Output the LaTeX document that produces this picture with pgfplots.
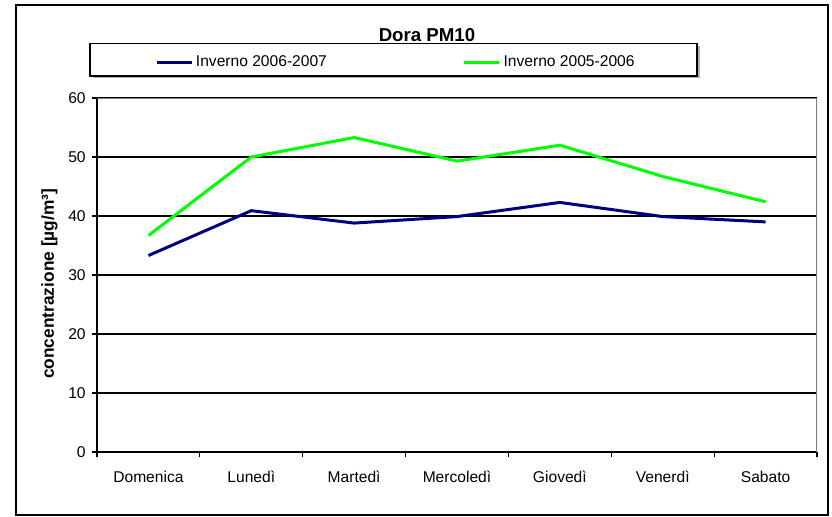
\documentclass[border=0pt]{standalone}
\usepackage{pgfplots}
\pgfplotsset{compat=1.18}
\usepackage{fontspec}
\setmainfont{Liberation Sans}
\definecolor{bluL}{RGB}{0,0,128}
\definecolor{grnL}{RGB}{0,255,0}
\begin{document}
\begin{tikzpicture}
\path[use as bounding box] (0,0) rectangle (624pt,387.75pt);
% outer frame
\draw[line width=1.1pt,black] (12pt,1.5pt) rectangle (621pt,384pt);
% title
\node[anchor=base,font=\fontsize{14}{17}\selectfont\bfseries,inner sep=0pt] at (320.25pt,356.6pt) {Dora PM10};
% legend frame with shadow
\fill[gray!60] (69.5pt,329pt) rectangle (524.75pt,353pt);
\draw[line width=0.8pt,black,fill=white] (67.5pt,330.75pt) rectangle (522.75pt,355.1pt);
\begin{axis}[
  at={(72.75pt,48.75pt)}, anchor=south west,
  scale only axis, width=540pt, height=265.5pt,
  xmin=-0.5, xmax=6.5, ymin=0, ymax=60,
  axis x line*=bottom, axis y line*=left,
  axis line style={line width=1.1pt,black,-},
  tick align=outside,
  major tick length=4pt,
  tick style={line width=0.8pt,black},
  ytick={0,10,20,30,40,50,60},
  ymajorgrids, grid style={line width=0.8pt,black},
  xtick={-0.5,0.5,1.5,2.5,3.5,4.5,5.5,6.5},
  xticklabels={},
  extra x ticks={0,1,2,3,4,5,6},
  extra x tick labels={Domenica,Lunedì,Martedì,Mercoledì,Giovedì,Venerdì,Sabato},
  extra x tick style={major tick length=0pt, grid=none},
  tick label style={font=\fontsize{11.7}{14}\selectfont},
  x tick label style={yshift=-11pt},
  y tick label style={xshift=-1pt},
  /pgf/number format/assume math mode=true,
  ylabel={concentrazione [µg/m³]},
  ylabel style={font=\fontsize{13}{16}\selectfont\bfseries, at={(axis description cs:-0.066,0.475)}, anchor=center},
  legend columns=2,
  legend style={at={(axis description cs:0.0806,1.1017)}, anchor=west, draw=none, fill=none, inner sep=0pt,
    font=\fontsize{11.7}{14}\selectfont,
    /tikz/every even column/.append style={column sep=100pt},
    nodes={inner sep=2pt}},
  legend image code/.code={\draw[#1] (0pt,0pt) -- (26.25pt,0pt);},
]
\addplot[bluL, line width=2.25pt] coordinates {(0,33.3) (1,40.9) (2,38.8) (3,39.9) (4,42.3) (5,39.9) (6,39.0)};
\addlegendentry{Inverno 2006-2007}
\addplot[grnL, line width=2.25pt] coordinates {(0,36.7) (1,50.0) (2,53.3) (3,49.3) (4,52.0) (5,46.7) (6,42.4)};
\addlegendentry{Inverno 2005-2006}
\draw[gray,line width=0.9pt] (rel axis cs:0,1) -- (rel axis cs:1,1) -- (rel axis cs:1,0);
\end{axis}
\end{tikzpicture}
\end{document}
